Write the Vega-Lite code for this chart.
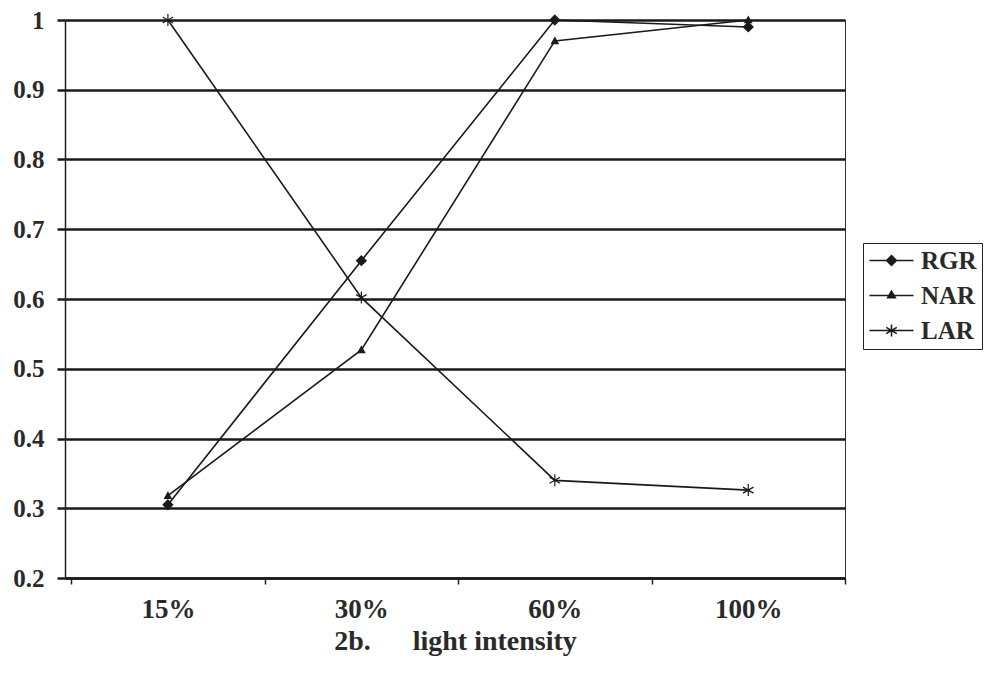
{
  "$schema": "https://vega.github.io/schema/vega-lite/v6.json",
  "width": 780,
  "height": 558,
  "autosize": {"type": "none"},
  "padding": {"left": 65, "top": 20, "right": 139, "bottom": 95},
  "background": "white",
  "config": {
    "font": "Liberation Serif",
    "view": {"stroke": "#333333", "strokeWidth": 1}
  },
  "data": {
    "values": [
      {"series": "RGR", "intensity": "15%", "value": 0.305},
      {"series": "RGR", "intensity": "30%", "value": 0.655},
      {"series": "RGR", "intensity": "60%", "value": 1.0},
      {"series": "RGR", "intensity": "100%", "value": 0.99},
      {"series": "NAR", "intensity": "15%", "value": 0.318},
      {"series": "NAR", "intensity": "30%", "value": 0.527},
      {"series": "NAR", "intensity": "60%", "value": 0.97},
      {"series": "NAR", "intensity": "100%", "value": 1.0},
      {"series": "LAR", "intensity": "15%", "value": 1.0},
      {"series": "LAR", "intensity": "30%", "value": 0.602},
      {"series": "LAR", "intensity": "60%", "value": 0.34},
      {"series": "LAR", "intensity": "100%", "value": 0.326}
    ]
  },
  "encoding": {
    "x": {
      "field": "intensity",
      "type": "ordinal",
      "sort": ["15%", "30%", "60%", "100%"],
      "scale": {"paddingInner": 0, "paddingOuter": 0.016, "align": 1},
      "axis": {
        "title": "2b.\u00a0\u00a0\u00a0\u00a0\u00a0\u00a0light intensity",
        "labelAngle": 0,
        "tickBand": "extent",
        "ticks": true,
        "tickSize": 6,
        "tickWidth": 1.5,
        "tickColor": "#222222",
        "domainColor": "#1a1a1a",
        "domainWidth": 2.5,
        "labelFontSize": 27,
        "labelFontWeight": "bold",
        "labelColor": "#2a2a2a",
        "labelPadding": 12,
        "titleFontSize": 28,
        "titleFontWeight": "bold",
        "titleColor": "#2a2a2a",
        "titlePadding": 5,
        "grid": false
      }
    },
    "y": {
      "field": "value",
      "type": "quantitative",
      "scale": {"domain": [0.2, 1], "nice": false, "zero": false},
      "axis": {
        "title": null,
        "values": [0.2, 0.3, 0.4, 0.5, 0.6, 0.7, 0.8, 0.9, 1],
        "format": ".1~f",
        "grid": true,
        "gridColor": "#1a1a1a",
        "gridWidth": 2.5,
        "gridOpacity": 1,
        "tickSize": 8,
        "tickWidth": 2.5,
        "tickColor": "#1a1a1a",
        "domainColor": "#222222",
        "domainWidth": 1.5,
        "labelFontSize": 25,
        "labelFontWeight": "bold",
        "labelColor": "#2a2a2a",
        "labelPadding": 13
      }
    }
  },
  "layer": [
    {
      "mark": {"type": "line", "color": "#1a1a1a", "strokeWidth": 1.6},
      "encoding": {"detail": {"field": "series"}}
    },
    {
      "mark": {
        "type": "point",
        "filled": true,
        "color": "#1a1a1a",
        "stroke": "#1a1a1a",
        "strokeWidth": 1.2,
        "opacity": 1,
        "size": 144
      },
      "encoding": {
        "shape": {
          "field": "series",
          "type": "nominal",
          "scale": {
            "domain": ["RGR", "NAR", "LAR"],
            "range": [
              "M0,-0.8L0.8,0L0,0.8L-0.8,0Z",
              "M0,-0.55L0.55,0.45L-0.55,0.45Z",
              "M0,-1L0,1M-0.87,-0.5L0.87,0.5M-0.87,0.5L0.87,-0.5"
            ]
          },
          "legend": null
        }
      }
    },
    {
      "mark": {
        "type": "point",
        "filled": false,
        "color": "#1a1a1a",
        "strokeWidth": 1.5,
        "opacity": 1,
        "size": 0
      },
      "encoding": {
        "shape": {
          "field": "series",
          "type": "nominal",
          "scale": {
            "domain": ["RGR", "NAR", "LAR"],
            "range": [
              "M-2,0L2,0M0,-0.45L0.45,0L0,0.45L-0.45,0ZM0,-0.3L0.3,0L0,0.3L-0.3,0ZM0,-0.15L0.15,0L0,0.15L-0.15,0ZM0,-0.45L0,0.45",
              "M-2,0L2,0M0,-0.4L0.35,0.2L-0.35,0.2ZM0,-0.22L0.19,0.1L-0.19,0.1ZM0,-0.4L0,0.2",
              "M-2,0L2,0M0,-0.55L0,0.55M-0.48,-0.28L0.48,0.28M-0.48,0.28L0.48,-0.28"
            ]
          },
          "legend": {
            "title": null,
            "orient": "none",
            "legendX": 798,
            "legendY": 223,
            "strokeColor": "#222222",
            "padding": 5,
            "rowPadding": 9,
            "labelFontSize": 25,
            "labelFontWeight": "bold",
            "labelColor": "#2a2a2a",
            "symbolSize": 484,
            "symbolOffset": 11,
            "labelOffset": 17,
            "symbolStrokeWidth": 1.5,
            "symbolStrokeColor": "#1a1a1a"
          }
        }
      }
    }
  ],
  "resolve": {"scale": {"shape": "independent"}}
}
